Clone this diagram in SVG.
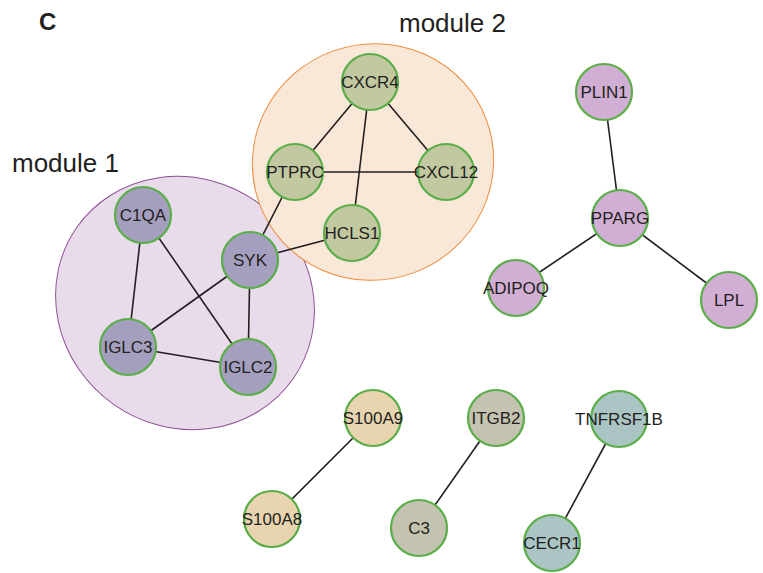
<svg xmlns="http://www.w3.org/2000/svg" width="763" height="573" viewBox="0 0 763 573">
<style>
text{font-family:"Liberation Sans",Arial,sans-serif;fill:#231f20}
.lbl{font-size:17px;text-anchor:middle;dominant-baseline:central}
.n{stroke:#5aae47;stroke-width:2.2}
.m1{fill:#a59fbf}
.m2{fill:#c2c8a0}
.pp{fill:#d1aed3}
.sa{fill:#e8d5b0}
.it{fill:#c3c3b0}
.tn{fill:#aac5c4}
#edges line{stroke:#231f20;stroke-width:1.6}
</style>
<rect width="763" height="573" fill="#fff"/>
<text x="39" y="30" style="font-size:24px;font-weight:bold">C</text>
<g id="module1">
<ellipse cx="185" cy="303" rx="132" ry="124" transform="rotate(35 185 303)" fill="#e8dcea" stroke="#8f5096" stroke-width="1"/>
<text x="12" y="172" style="font-size:26px">module 1</text>
</g>
<g id="module2">
<ellipse cx="373" cy="162" rx="121" ry="118" transform="rotate(-20 373 162)" fill="#f9e7d8" stroke="#ee8b3c" stroke-width="1"/>
<text x="399" y="32" style="font-size:26px">module 2</text>
</g>
<g id="edges">
<line x1="370" y1="82" x2="295" y2="172"/>
<line x1="370" y1="82" x2="446" y2="172"/>
<line x1="370" y1="82" x2="352" y2="233"/>
<line x1="295" y1="172" x2="446" y2="172"/>
<line x1="295" y1="172" x2="250" y2="260"/>
<line x1="352" y1="233" x2="250" y2="260"/>
<line x1="143" y1="215" x2="128" y2="347"/>
<line x1="143" y1="215" x2="248" y2="367"/>
<line x1="250" y1="260" x2="128" y2="347"/>
<line x1="250" y1="260" x2="248" y2="367"/>
<line x1="128" y1="347" x2="248" y2="367"/>
<line x1="604" y1="92" x2="620" y2="218"/>
<line x1="620" y1="218" x2="516" y2="288"/>
<line x1="620" y1="218" x2="729" y2="300"/>
<line x1="373" y1="418" x2="272" y2="519"/>
<line x1="496" y1="418" x2="419" y2="528"/>
<line x1="619" y1="419" x2="552" y2="543"/>
</g>
<g id="CXCR4"><circle class="n m2" cx="370" cy="82" r="28"/><text class="lbl" x="370" y="82">CXCR4</text></g>
<g id="PTPRC"><circle class="n m2" cx="295" cy="172" r="28"/><text class="lbl" x="295" y="172">PTPRC</text></g>
<g id="CXCL12"><circle class="n m2" cx="446" cy="172" r="28"/><text class="lbl" x="446" y="172">CXCL12</text></g>
<g id="HCLS1"><circle class="n m2" cx="352" cy="233" r="28"/><text class="lbl" x="352" y="233">HCLS1</text></g>
<g id="SYK"><circle class="n m1" cx="250" cy="260" r="28"/><text class="lbl" x="250" y="260">SYK</text></g>
<g id="C1QA"><circle class="n m1" cx="143" cy="215" r="28"/><text class="lbl" x="143" y="215">C1QA</text></g>
<g id="IGLC3"><circle class="n m1" cx="128" cy="347" r="28"/><text class="lbl" x="128" y="347">IGLC3</text></g>
<g id="IGLC2"><circle class="n m1" cx="248" cy="367" r="28"/><text class="lbl" x="248" y="367">IGLC2</text></g>
<g id="PLIN1"><circle class="n pp" cx="604" cy="92" r="28"/><text class="lbl" x="604" y="92">PLIN1</text></g>
<g id="PPARG"><circle class="n pp" cx="620" cy="218" r="28"/><text class="lbl" x="620" y="218">PPARG</text></g>
<g id="ADIPOQ"><circle class="n pp" cx="516" cy="288" r="28"/><text class="lbl" x="516" y="288">ADIPOQ</text></g>
<g id="LPL"><circle class="n pp" cx="729" cy="300" r="28"/><text class="lbl" x="729" y="300">LPL</text></g>
<g id="S100A9"><circle class="n sa" cx="373" cy="418" r="28"/><text class="lbl" x="373" y="418">S100A9</text></g>
<g id="S100A8"><circle class="n sa" cx="272" cy="519" r="28"/><text class="lbl" x="272" y="519">S100A8</text></g>
<g id="ITGB2"><circle class="n it" cx="496" cy="418" r="28"/><text class="lbl" x="496" y="418">ITGB2</text></g>
<g id="C3"><circle class="n it" cx="419" cy="528" r="28"/><text class="lbl" x="419" y="528">C3</text></g>
<g id="TNFRSF1B"><circle class="n tn" cx="619" cy="419" r="28"/><text class="lbl" x="619" y="419">TNFRSF1B</text></g>
<g id="CECR1"><circle class="n tn" cx="552" cy="543" r="28"/><text class="lbl" x="552" y="543">CECR1</text></g>
</svg>
